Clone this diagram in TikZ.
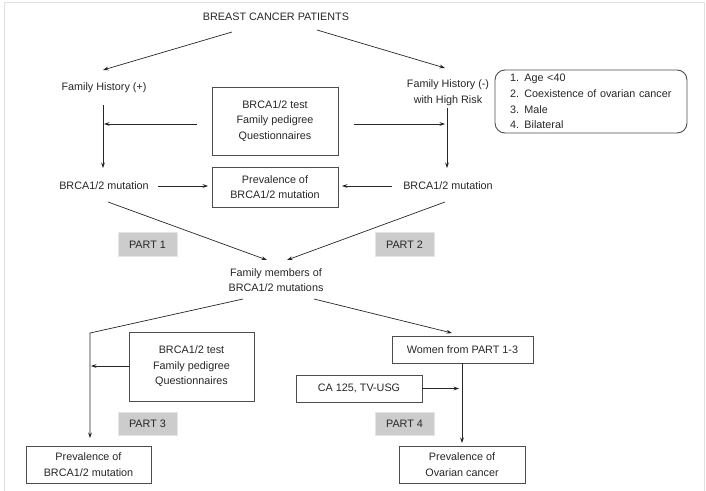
\documentclass[tikz,border=0pt]{standalone}
\usepackage{fontspec}
\setmainfont{Liberation Sans}
\usetikzlibrary{arrows.meta}
\begin{document}
\begin{tikzpicture}[x=1pt,y=-1pt,
 txt/.style={font=\fontsize{10.8}{15.6}\selectfont, text=black!85, align=center, inner sep=0pt},
 box/.style={txt, draw=black!70, line width=0.9pt, rectangle},
 partbox/.style={txt, fill=black!20, draw=black!10, line width=0.6pt, minimum width=59pt, minimum height=24pt},
 arr/.style={draw=black!85, line width=0.7pt, -{Stealth[length=5.5pt,width=3.8pt]}},
 ln/.style={draw=black!85, line width=0.7pt}]
\useasboundingbox (0,0) rectangle (706,490);
\draw[black!12, line width=1pt] (4,492) -- (4,2) -- (704,2) -- (704,492);

% text nodes
\node[txt] (title) at (276,17) {BREAST CANCER PATIENTS};
\node[txt] (fhp) at (104,88) {Family History (+)};
\node[txt] (fhm) at (448,92.5) {Family History (-)\\with High Risk};
\node[txt, draw=black!70, line width=0.9pt, rounded corners=10pt, minimum width=192pt, minimum height=63pt,
      text width=162pt, align=left, inner xsep=15pt] (risk) at (591,101.5)
      {1. Age <40\\2. Coexistence of ovarian cancer\\3. Male\\4. Bilateral};
\node[box, minimum width=126pt, minimum height=68pt] (test1) at (275,121) {BRCA1/2 test\\Family pedigree\\Questionnaires};
\node[box, minimum width=126pt, minimum height=40pt] (prev1) at (275,187) {Prevalence of\\BRCA1/2 mutation};
\node[txt] (mutL) at (104,186) {BRCA1/2 mutation};
\node[txt] (mutR) at (448,186) {BRCA1/2 mutation};
\node[partbox] (part1) at (147.5,244.5) {PART 1};
\node[partbox] (part2) at (404.5,244.5) {PART 2};
\node[txt] (fam) at (276,280) {Family members of\\BRCA1/2 mutations};
\node[box, minimum width=125pt, minimum height=69pt] (test2) at (191.5,366.5) {BRCA1/2 test\\Family pedigree\\Questionnaires};
\node[box, minimum width=141pt, minimum height=27pt] (women) at (462.5,349.5) {Women from PART 1-3};
\node[box, minimum width=126pt, minimum height=27pt] (ca) at (359,388.5) {CA 125, TV-USG};
\node[partbox, minimum height=23pt] (part3) at (147.5,423.5) {PART 3};
\node[partbox, minimum height=23pt] (part4) at (404.5,423.5) {PART 4};
\node[box, minimum width=125pt, minimum height=37pt] (prevB) at (88.5,464.5) {Prevalence of\\BRCA1/2 mutation};
\node[box, minimum width=126pt, minimum height=37pt] (prevO) at (462,464.5) {Prevalence of\\Ovarian cancer};

% connector end points
\coordinate (t1) at (232,32);  \coordinate (t1e) at (103,70);
\coordinate (t2) at (317,30);  \coordinate (t2e) at (445,68);
\coordinate (vl1) at (103,105); \coordinate (vl2) at (103,168);
\coordinate (vr1) at (447,108); \coordinate (vr2) at (447,168);
\coordinate (al1) at (197,124); \coordinate (al2) at (104,124);
\coordinate (ar1) at (354,124); \coordinate (ar2) at (445,124);
\coordinate (ml1) at (158,186); \coordinate (ml2) at (208,186);
\coordinate (mr1) at (392,186); \coordinate (mr2) at (342,186);
\coordinate (d1) at (108,202); \coordinate (d1e) at (267,260);
\coordinate (d2) at (445,202); \coordinate (d2e) at (287,260);
\coordinate (f1) at (243,299); \coordinate (f1k) at (90,333); \coordinate (f1e) at (90,438);
\coordinate (f2) at (314,299); \coordinate (f2e) at (452,333);
\coordinate (tb) at (91,366);
\coordinate (wv) at (462,443);
\coordinate (cae) at (459,388.5);

% connectors
\draw[arr] (t1) -- (t1e);
\draw[arr] (t2) -- (t2e);
\draw[arr] (vl1) -- (vl2);
\draw[arr] (vr1) -- (vr2);
\draw[arr] (al1) -- (al2);
\draw[arr] (ar1) -- (ar2);
\draw[arr] (ml1) -- (ml2);
\draw[arr] (mr1) -- (mr2);
\draw[arr] (d1) -- (d1e);
\draw[arr] (d2) -- (d2e);
\draw[arr] (f1) -- (f1k) -- (f1e);
\draw[arr] (f2) -- (f2e);
\draw[arr] (test2.west |- tb) -- (tb);
\draw[arr] (women.south -| wv) -- (wv);
\draw[arr] (ca.east) -- (cae);
\end{tikzpicture}
\end{document}
